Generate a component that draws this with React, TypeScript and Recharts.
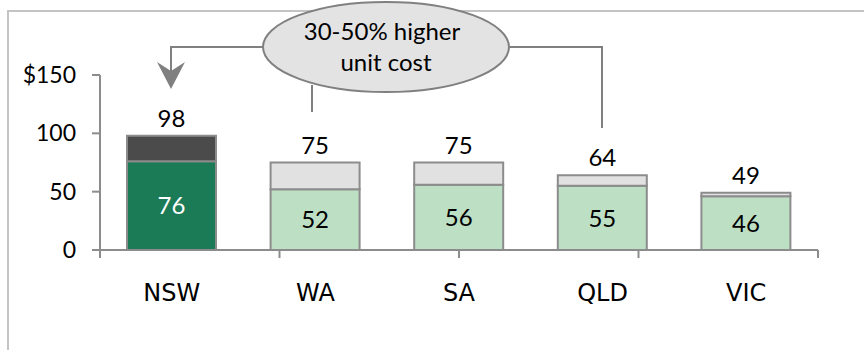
import React from 'react';
import { BarChart, Bar, XAxis, YAxis, Cell, LabelList } from 'recharts';

const categories = ['NSW', 'WA', 'SA', 'QLD', 'VIC'];
const baseCost = [76, 52, 56, 55, 46];
const totalCost = [98, 75, 75, 64, 49];
const yTicks = [0, 50, 100, 150];
const edgeTicks = [0, 1, 2, 3, 4, 5];
const annotationLines = ['30-50% higher', 'unit cost'];

const baseColors = ['#1b7b56', '#bddfc4', '#bddfc4', '#bddfc4', '#bddfc4'];
const extraColors = ['#4b4b4b', '#e1e1e1', '#e1e1e1', '#e1e1e1', '#e1e1e1'];

const data = categories.map((name, i) => ({
  name,
  base: baseCost[i],
  extra: totalCost[i] - baseCost[i],
  total: totalCost[i],
}));

const GRAY = '#8c8c8c';

const InnerLabel = (props: any) => {
  const vb = props.viewBox || props;
  const { x, y, width, height } = vb;
  return (
    <text
      x={x + width / 2}
      y={y + height / 2}
      dy="0.36em"
      textAnchor="middle"
      fontFamily="Lato"
      fontSize={24}
      fill={props.index === 0 ? '#ffffff' : '#000000'}
    >
      {props.value}
    </text>
  );
};

const NoTick = () => <g />;

export default function App() {
  return (
    <div style={{ position: 'absolute', left: 0, top: 0, width: 864, height: 350, background: '#fff' }}>
      <BarChart
        width={864}
        height={350}
        data={data}
        margin={{ top: 75, right: 46, bottom: 40, left: 0 }}
      >
        <XAxis
          xAxisId={0}
          type="number"
          domain={[0, 5]}
          ticks={edgeTicks}
          allowDataOverflow
          tick={NoTick}
          tickSize={8}
          height={1}
          axisLine={{ stroke: GRAY, strokeWidth: 2 }}
          tickLine={{ stroke: GRAY, strokeWidth: 2 }}
        />
        <XAxis
          xAxisId="cat"
          dataKey="name"
          axisLine={false}
          tickLine={false}
          tickSize={6}
          tickMargin={27}
          height={59}
          interval={0}
          tick={{ fontFamily: 'DejaVu Sans', fontSize: 24, fill: '#000' }}
        />
        <YAxis
          domain={[0, 150]}
          ticks={yTicks}
          interval={0}
          width={100}
          tickSize={8}
          tickMargin={16}
          tickFormatter={(v: number) => (v === 150 ? '$150' : String(v))}
          axisLine={{ stroke: GRAY, strokeWidth: 2 }}
          tickLine={{ stroke: GRAY, strokeWidth: 2 }}
          tick={{ fontFamily: 'Lato', fontSize: 23, fill: '#000' }}
        />
        <Bar
          xAxisId="cat"
          dataKey="base"
          stackId="a"
          barSize={89}
          stroke={GRAY}
          strokeWidth={2}
          isAnimationActive={false}
        >
          {data.map((d, i) => (
            <Cell key={d.name} fill={baseColors[i]} />
          ))}
          <LabelList dataKey="base" content={InnerLabel} />
        </Bar>
        <Bar
          xAxisId="cat"
          dataKey="extra"
          stackId="a"
          barSize={89}
          stroke={GRAY}
          strokeWidth={2}
          isAnimationActive={false}
        >
          {data.map((d, i) => (
            <Cell key={d.name} fill={extraColors[i]} />
          ))}
          <LabelList
            dataKey="total"
            position="top"
            offset={9}
            fill="#000"
            fontSize={24}
            fontFamily="Lato"
          />
        </Bar>
      </BarChart>
      <svg
        width={864}
        height={350}
        style={{ position: 'absolute', left: 0, top: 0, pointerEvents: 'none' }}
      >
        <path d="M8,350 L8,11 L864,11" fill="none" stroke="#c4c4c4" strokeWidth={2} />
        <polyline points="263,47 171,47 171,72" fill="none" stroke="#808080" strokeWidth={2} />
        <polygon points="157,62 171,89 185,62 171,71" fill="#808080" />
        <polyline points="509,47 602,47 602,128" fill="none" stroke="#808080" strokeWidth={2} />
        <line x1={312} y1={85} x2={312} y2={112} stroke="#808080" strokeWidth={2} />
        <ellipse cx={386} cy={47} rx={123} ry={45} fill="#e3e3e3" stroke="#808080" strokeWidth={2} />
        <text x={382} y={40} textAnchor="middle" fontFamily="Lato" fontSize={24} fill="#000">
          {annotationLines[0]}
        </text>
        <text x={386} y={71} textAnchor="middle" fontFamily="Lato" fontSize={24} fill="#000">
          {annotationLines[1]}
        </text>
      </svg>
    </div>
  );
}
